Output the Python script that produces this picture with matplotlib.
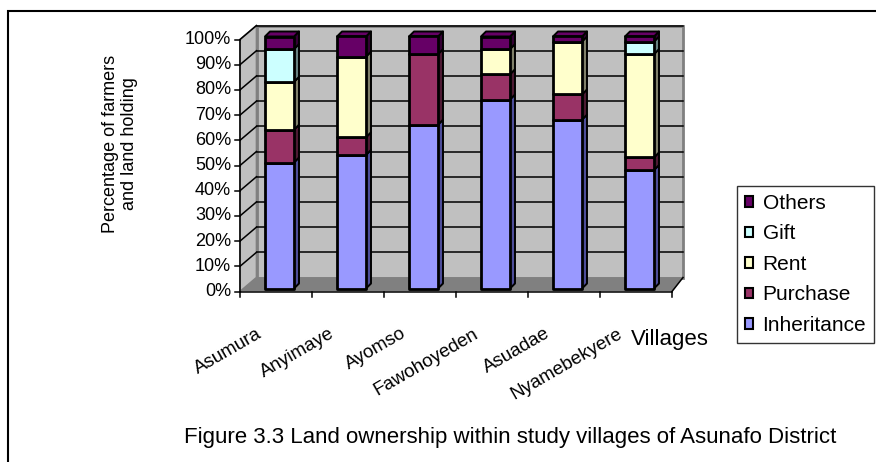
import matplotlib
matplotlib.use("Agg")
import matplotlib.pyplot as plt
from matplotlib.patches import Polygon, Rectangle, Patch

plt.rcParams['font.family'] = ['Liberation Sans', 'DejaVu Sans']

villages = ["Asumura", "Anyimaye", "Ayomso", "Fawohoyeden", "Asuadae", "Nyamebekyere"]
inheritance = [50, 53, 65, 75, 67, 47]
purchase = [13, 7, 28, 10, 10, 5]
rent = [19, 32, 0, 10, 21, 41]
gift = [13, 0, 0, 0, 0, 5]
others = [5, 8, 7, 5, 2, 2]
y_ticks = [0, 10, 20, 30, 40, 50, 60, 70, 80, 90, 100]

series = [
    ("Inheritance", inheritance, "#9999FF", "#4D4D99"),
    ("Purchase", purchase, "#993366", "#4D1A33"),
    ("Rent", rent, "#FFFFCC", "#80806A"),
    ("Gift", gift, "#CCFFFF", "#668080"),
    ("Others", others, "#660066", "#330033"),
]

W, H = 876, 462
fig = plt.figure(figsize=(W / 100, H / 100), dpi=100)

# axes placed so that the front axis corner sits where the original has it
x0px, x1px, y0px, y1px = 240, 672, 291.5, 39.5
ax = fig.add_axes([x0px / W, 1 - y0px / H, (x1px - x0px) / W, (y0px - y1px) / H])
ax.set_xlim(0, len(villages))
ax.set_ylim(0, 100)
ax.axis("off")

px_x = (x1px - x0px) / len(villages)   # pixels per category
px_y = (y0px - y1px) / 100.0           # pixels per percent

# depth of the fake 3d box
back_l = 16.5 / px_x
back_r = len(villages) + 11 / px_x
depth_y = 14 / px_y

# left side wall
ax.add_patch(Polygon([(0, 0), (back_l, depth_y), (back_l, 100 + depth_y), (0, 100)],
                     closed=True, fc="#C0C0C0", ec="#808080", lw=1.2, clip_on=False, zorder=1))
# back wall
ax.add_patch(Polygon([(back_l, depth_y), (back_r, depth_y), (back_r, 100 + depth_y), (back_l, 100 + depth_y)],
                     closed=True, fc="#C0C0C0", ec="#808080", lw=2, clip_on=False, zorder=1))
# floor
ax.add_patch(Polygon([(0, 0), (len(villages), 0), (back_r, depth_y), (back_l, depth_y)],
                     closed=True, fc="#808080", ec="none", clip_on=False, zorder=2))

for v in y_ticks[1:]:
    ax.plot([back_l, back_r], [v + depth_y, v + depth_y], color="black", lw=1.1, clip_on=False, zorder=2)
    ax.plot([0, back_l], [v, v + depth_y], color="black", lw=1.1, clip_on=False, zorder=2)

# front axes
ax.plot([0, 0], [0, 100], color="black", lw=1.1, clip_on=False, zorder=3)
ax.plot([0, len(villages)], [0, 0], color="black", lw=1.1, clip_on=False, zorder=3)
ax.plot([len(villages), back_r], [0, depth_y], color="black", lw=1.1, clip_on=False, zorder=3)
tick_x = 5 / px_x
tick_y = 5 / px_y
for v in y_ticks:
    ax.plot([-tick_x, 0], [v, v], color="black", lw=1.1, clip_on=False, zorder=3)
    ax.text(-9 / px_x, v, f"{v}%", ha="right", va="center", fontsize=13)
for i in range(len(villages) + 1):
    ax.plot([i, i], [0, -tick_y], color="black", lw=1.1, clip_on=False, zorder=3)

# bars
bw = 29 / px_x
bx = 3.5 / px_x
by = 3 / px_y
ddx = 5 / px_x
ddy = 5 / px_y
for i in range(len(villages)):
    left = i + 0.5 - bw / 2 + bx
    base = 0
    top_color = None
    for name, vals, fc, sc in series:
        h = vals[i]
        if h <= 0:
            continue
        b, t = base + by, base + h + by
        ax.add_patch(Polygon([(left + bw, b), (left + bw + ddx, b + ddy), (left + bw + ddx, t + ddy), (left + bw, t)],
                             closed=True, fc=sc, ec="black", lw=1.4, clip_on=False, zorder=5, joinstyle="round"))
        ax.add_patch(Rectangle((left, b), bw, h, fc=fc, ec="black", lw=2.0, clip_on=False, zorder=6, joinstyle="round"))
        base += h
        top_color = fc
    t = base + by
    ax.add_patch(Polygon([(left, t), (left + bw, t), (left + bw + ddx, t + ddy), (left + ddx, t + ddy)],
                         closed=True, fc=top_color, ec="black", lw=1.4, clip_on=False, zorder=5, joinstyle="round"))

# category labels
for i, name in enumerate(villages):
    ax.text(i + 0.5 - 15 / px_x, -41 / px_y, name, rotation=30, rotation_mode="anchor",
            ha="right", va="center", fontsize=13.5)

fig.text(670 / W, 1 - 340 / H, "Villages", ha="center", va="center", fontsize=16)
fig.text(120 / W, 1 - 144 / H, "Percentage of farmers\nand land holding", rotation=90,
         ha="center", va="center", fontsize=13, linespacing=1.2)
fig.text(510.5 / W, 1 - 438 / H, "Figure 3.3 Land ownership within study villages of Asunafo District",
         ha="center", va="center", fontsize=16)

handles = [Patch(fc=fc, ec="black", lw=1.5, label=name) for name, vals, fc, sc in series][::-1]
leg = fig.legend(handles=handles, loc="upper left", bbox_to_anchor=(737 / W, 1 - 186 / H),
                 fontsize=15, frameon=True, fancybox=False, handlelength=0.4, handleheight=0.4,
                 handletextpad=0.45, labelspacing=0.55, borderpad=0.38, borderaxespad=0)
leg.get_frame().set_edgecolor("black")
leg.get_frame().set_linewidth(1.0)

# outer chart border (right and bottom lie outside the picture)
fig.patches.append(Rectangle((8 / W, -0.1), 1.2, 1.1 - 11 / H, transform=fig.transFigure,
                             fill=False, ec="black", lw=1.5))

fig.savefig("out.png", dpi=100)
